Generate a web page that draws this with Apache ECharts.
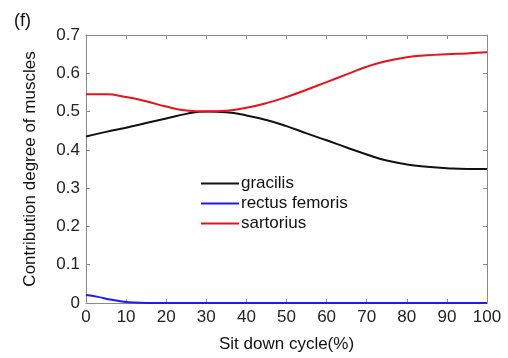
<!DOCTYPE html>
<html><head><meta charset="utf-8">
<script src="https://cdn.jsdelivr.net/npm/echarts@6/dist/echarts.min.js"></script>
<style>html,body{margin:0;padding:0;background:#fff}#c{width:508px;height:358px}</style>
</head><body><div id="c"></div>
<script>
const xs = [0,5,10,15,20,25,30,35,40,45,50,55,60,65,70,75,80,85,90,95,100];
const gracilis = [0.435,0.447,0.458,0.470,0.482,0.494,0.500,0.498,0.490,0.478,0.462,0.443,0.425,0.406,0.388,0.372,0.362,0.356,0.352,0.350,0.350];
const sartorius = [0.545,0.545,0.538,0.527,0.513,0.503,0.500,0.502,0.510,0.522,0.538,0.557,0.577,0.597,0.617,0.632,0.642,0.647,0.650,0.652,0.655];
const rectusX = [0,3,6,9,12,15,20,30,40,50,60,70,80,90,100];
const rectus = [0.021,0.016,0.009,0.004,0.001,0,0,0,0,0,0,0,0,0,0];
const xTicks = [0,10,20,30,40,50,60,70,80,90,100];
const yTicks = [0,0.1,0.2,0.3,0.4,0.5,0.6,0.7];

const chart = echarts.init(document.getElementById('c'));
const axisCol = '#8a8a8a';
const font = 'Arial, "Liberation Sans", sans-serif';
const pair = (a,b)=>a.map((x,i)=>[x,b[i]]);
chart.setOption({
  animation:false,
  title:{text:'(f)', left:9, top:7, textStyle:{fontSize:18, fontWeight:'normal', color:'#111', fontFamily:font}},
  grid:{left:86, right:21, top:35, bottom:51},
  legend:{
    orient:'vertical', left:196, top:170, itemGap:3, itemWidth:38, itemHeight:17,
    icon:'path://M0,6 L40,6 L40,8 L0,8 Z',
    textStyle:{fontSize:17, color:'#111', fontFamily:font, padding:[0,0,0,-3]},
    data:['gracilis','rectus femoris','sartorius']
  },
  xAxis:[{
    type:'value', min:0, max:100, interval:10,
    name:'Sit down cycle(%)', nameLocation:'middle', nameGap:33,
    nameTextStyle:{fontSize:17, color:'#111', fontFamily:font},
    axisLine:{onZero:false, lineStyle:{color:axisCol}}, axisTick:{inside:true, length:4, lineStyle:{color:axisCol}},
    axisLabel:{fontSize:17, color:'#222', fontFamily:font, margin:6},
    splitLine:{show:false}
  },{
    type:'value', min:0, max:100, interval:10, position:'top',
    axisLine:{show:true, onZero:false, lineStyle:{color:axisCol}}, axisTick:{show:true, inside:true, length:4, lineStyle:{color:axisCol}},
    axisLabel:{show:false}, splitLine:{show:false}
  }],
  yAxis:[{
    type:'value', min:0, max:0.7, interval:0.1,
    name:'Contribution degree of muscles', nameLocation:'middle', nameGap:47,
    nameTextStyle:{fontSize:17, color:'#111', fontFamily:font},
    axisLine:{show:true, onZero:false, lineStyle:{color:axisCol}}, axisTick:{show:true, inside:true, length:4, lineStyle:{color:axisCol}},
    axisLabel:{fontSize:17, color:'#222', fontFamily:font, margin:6, formatter:v=>v===0?'0':v.toFixed(1)},
    splitLine:{show:false}
  },{
    type:'value', min:0, max:0.7, interval:0.1, position:'right',
    axisLine:{show:true, onZero:false, lineStyle:{color:axisCol}}, axisTick:{show:true, inside:true, length:4, lineStyle:{color:axisCol}},
    axisLabel:{show:false}, splitLine:{show:false}
  }],
  series:[
    {name:'gracilis', type:'line', smooth:true, showSymbol:false, data:pair(xs,gracilis), lineStyle:{color:'#111', width:2}, itemStyle:{color:'#111'}},
    {name:'rectus femoris', type:'line', smooth:true, showSymbol:false, data:pair(rectusX,rectus), lineStyle:{color:'#1a1aff', width:2}, itemStyle:{color:'#1a1aff'}},
    {name:'sartorius', type:'line', smooth:true, showSymbol:false, data:pair(xs,sartorius), lineStyle:{color:'#e8121a', width:2}, itemStyle:{color:'#e8121a'}}
  ]
});
</script></body></html>
